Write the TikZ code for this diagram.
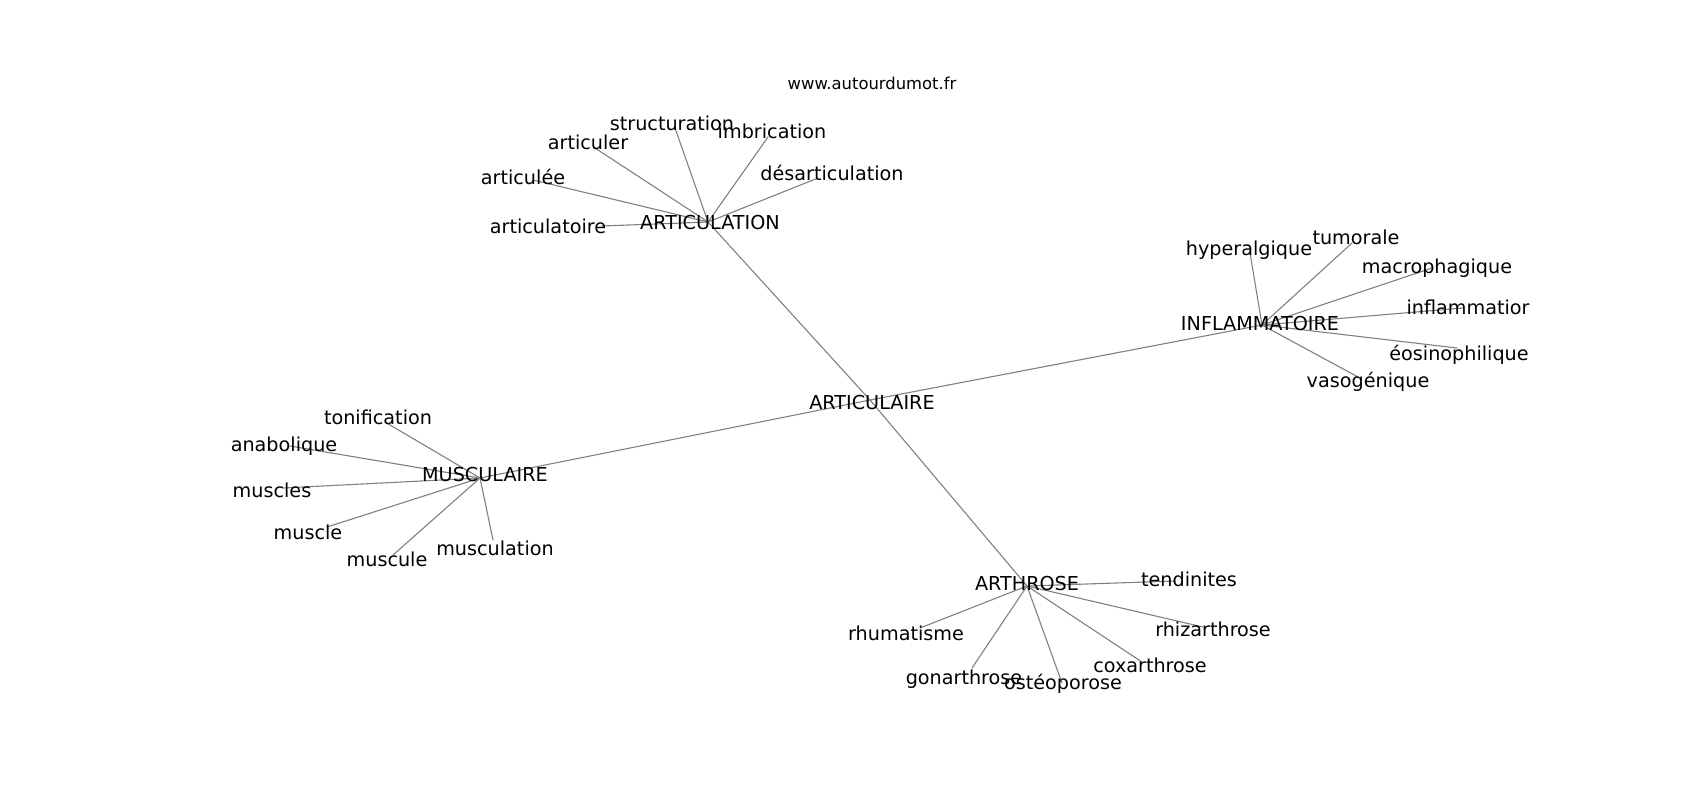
\documentclass[tikz,border=0pt]{standalone}
\usepackage{fontspec}
\setmainfont{DejaVu Sans}
\begin{document}
\begin{tikzpicture}[x=0.5pt,y=-0.5pt,line cap=round,line join=round,
	edge/.style={draw=gray,line width=0.55pt},
	word/.style={inner sep=0pt,text height=0.75em,text depth=0.05em,font=\fontsize{9.6}{11}\selectfont},
	site/.style={inner sep=0pt,font=\fontsize{8.2}{10}\selectfont}]
	\useasboundingbox (0,0) rectangle (1700,800);
	% centres
	\path (870,400)coordinate(ART) (708,222)coordinate(ATION) (1262,325)coordinate(INF) (480,478)coordinate(MUS) (1027,586)coordinate(ARTH);
	% leaves
	\path (602,226)coordinate(atoire) (533,180)coordinate(ulee) (595,148)coordinate(uler) (675,128)coordinate(struct) (768,137)coordinate(imbr) (818,178)coordinate(desart)
		(1250,253)coordinate(hyper) (1352,243)coordinate(tumor) (1432,268)coordinate(macro) (1463,308)coordinate(inflam) (1457,348)coordinate(eosin) (1358,377)coordinate(vaso)
		(385,422)coordinate(tonif) (290,446)coordinate(anab) (283,488)coordinate(muscs) (327,527)coordinate(musc) (393,555)coordinate(muscu) (493,540)coordinate(muscul)
		(1175,581)coordinate(tend) (1203,627)coordinate(rhiz) (1142,662)coordinate(coxa) (1062,683)coordinate(osteo) (972,668)coordinate(gona) (920,628)coordinate(rhum);
	\draw[edge] (ATION)--(ART)--(ARTH) (MUS)--(ART)--(INF);
	\foreach \n in {atoire,ulee,uler,struct,imbr,desart} \draw[edge] (ATION)--(\n);
	\foreach \n in {hyper,tumor,macro,inflam,eosin,vaso} \draw[edge] (INF)--(\n);
	\foreach \n in {tonif,anab,muscs,musc,muscu,muscul} \draw[edge] (MUS)--(\n);
	\foreach \n in {tend,rhiz,coxa,osteo,gona,rhum} \draw[edge] (ARTH)--(\n);
	% labels
	\node[site] (site) at (872,83) {www.autourdumot.fr};
	\node[word] (ARTl) at (872,402) {ARTICULAIRE};
	\node[word] (ATIONl) at (710,222) {ARTICULATION};
	\node[word] (INFl) at (1260,323) {INFLAMMATOIRE};
	\node[word] (MUSl) at (485,474) {MUSCULAIRE};
	\node[word] (ARTHl) at (1027,583) {ARTHROSE};
	\node[word] (atoirel) at (548,226) {articulatoire};
	\node[word] (uleel) at (523,177) {articulée};
	\node[word] (ulerl) at (588,142) {articuler};
	\node[word] (structl) at (672,123) {structuration};
	\node[word] (imbrl) at (772,131) {imbrication};
	\node[word] (desartl) at (832,173) {désarticulation};
	\node[word] (hyperl) at (1249,248) {hyperalgique};
	\node[word] (tumorl) at (1356,237) {tumorale};
	\node[word] (macrol) at (1437,266) {macrophagique};
	\node[word] (inflaml) at (1468,307) {inflammatior};
	\node[word] (eosinl) at (1459,353) {éosinophilique};
	\node[word] (vasol) at (1368,380) {vasogénique};
	\node[word] (tonifl) at (378,417) {tonification};
	\node[word] (anabl) at (284,444) {anabolique};
	\node[word] (muscsl) at (272,490) {muscles};
	\node[word] (muscl) at (308,532) {muscle};
	\node[word] (muscul) at (387,559) {muscule};
	\node[word] (muscull) at (495,548) {musculation};
	\node[word] (tendl) at (1189,579) {tendinites};
	\node[word] (rhizl) at (1213,629) {rhizarthrose};
	\node[word] (coxal) at (1150,665) {coxarthrose};
	\node[word] (osteol) at (1063,682) {ostéoporose};
	\node[word] (gonal) at (964,677) {gonarthrose};
	\node[word] (rhuml) at (906,633) {rhumatisme};
\end{tikzpicture}
\end{document}
